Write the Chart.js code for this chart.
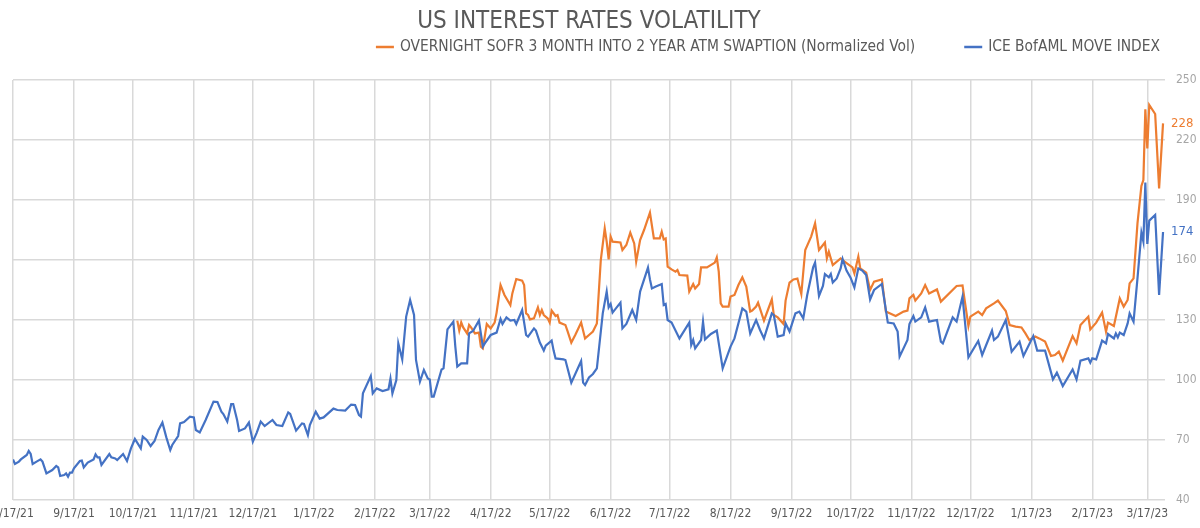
<!DOCTYPE html>
<html><head><meta charset="utf-8">
<script src="https://cdn.jsdelivr.net/npm/chart.js@4.4.0/dist/chart.umd.min.js"></script>
<style>html,body{margin:0;padding:0;background:#fff;}</style>
</head><body>
<canvas id="c" width="1200" height="528" style="display:block;width:1200px;height:528px"></canvas>
<script>
// ---- data (x = days since 8/17/21) ----
const titleText = 'US INTEREST RATES VOLATILITY';
const orangeLabel = 'OVERNIGHT SOFR 3 MONTH INTO 2 YEAR ATM SWAPTION (Normalized Vol)';
const blueLabel = 'ICE BofAML MOVE INDEX';
const tickDays = [0,31,61,92,122,153,184,212,243,273,304,334,365,396,426,457,487,518,549,577];
const tickLabels = ['8/17/21','9/17/21','10/17/21','11/17/21','12/17/21','1/17/22','2/17/22','3/17/22','4/17/22','5/17/22','6/17/22','7/17/22','8/17/22','9/17/22','10/17/22','11/17/22','12/17/22','1/17/23','2/17/23','3/17/23'];
const yTicks = [40,70,100,130,160,190,220,250];

const blueDays = [0,1,3,4,7,8,9,10,12,14,15,17,20,22,23,24,26,27,28,29,30,31,34,35,36,38,41,42,43,44,45,49,50,52,53,56,58,60,62,65,66,68,70,72,74,76,78,80,81,84,85,87,90,92,93,95,98,102,104,106,107,109,111,112,114,115,118,120,122,124,126,128,132,134,137,140,141,144,147,148,150,151,154,156,158,163,165,169,172,174,176,177,178,182,183,185,188,191,192,193,195,196,198,200,202,204,205,207,209,211,212,213,214,218,219,221,224,225,226,228,231,232,234,237,239,240,243,246,248,249,251,253,255,256,259,261,262,265,266,268,270,271,274,275,276,280,281,284,289,290,291,293,295,297,300,302,303,304,305,309,310,312,315,317,319,323,324,325,327,330,331,332,333,335,339,344,345,346,347,350,351,352,355,358,361,365,367,371,373,375,378,380,382,386,387,389,392,393,395,397,398,400,402,404,407,408,410,412,413,415,416,417,419,421,422,424,426,428,430,432,434,436,438,442,445,448,450,451,455,456,458,459,462,464,466,470,472,473,478,480,483,486,491,493,498,499,501,505,508,512,514,519,521,525,529,531,534,539,541,543,547,548,549,551,554,556,557,560,561,562,563,565,567,568,570,572,574,575,576,577,578,581,583,585];
const blueVals = [60.3,58,59.2,60.3,62.5,64.5,63,58,59.2,60.3,59.2,53.3,55,57,56.3,52,52.5,53.3,51.7,53.7,53.7,55.8,59.5,59.7,56.3,58.7,60.3,62.8,61.3,61.3,57.5,63,61.3,60.8,60,63,59.5,65.8,70.5,65.8,71.7,70,67,69.5,75,78.7,71.3,65,67.5,72,78.3,79,81.7,81.3,75,73.8,80,89.2,89,84.2,83,79.2,88,88,80,74.5,75.8,78.7,69.2,73.7,79.2,77,80,77.5,77,83.8,83,74.7,78.3,78,72.5,77.5,84.2,80.7,81.3,85.7,85,84.7,87.7,87.5,82.5,81.7,93.3,102,93.3,95.8,94.5,95.3,100.7,93.3,100,118.3,110.3,131.7,140,132.5,110,99.2,105,100.8,100.3,91.7,91.7,105.3,105.8,125.3,129.2,116.7,106.7,108.3,108.3,123.3,124.5,129.7,116.7,118.3,122.5,123.7,130.5,128,131.3,129.7,130,128,135,122.5,121.7,125.8,124.7,118.7,114.7,117.2,119.7,114.7,110.8,110.3,110,98.7,109.5,98.7,97.5,101.3,103,105.8,133.3,144.2,136.3,138,133.7,138.7,125.8,128,135,130,144.2,156.2,150.3,145.8,146.7,148,137.5,138,130,128.7,120.8,128.7,117.5,120,115.8,120,129.2,120.3,123,124.7,105.8,116.7,120.8,135.8,134.2,123.3,130,125,120.8,133.3,132.5,121.7,122.5,128.3,124.2,130.3,133.3,134.2,130.8,142.5,156.3,158.7,142,147,153,151.3,153,148.7,150.8,155.8,160.5,154.7,151.3,146.3,155.8,154.7,152.5,140.3,145,148,128.7,128.3,124.2,111.7,120,128,132,129.2,131.3,136.3,129.2,130,119.2,118.3,131.3,129.2,141.7,111.3,119.5,112.5,124.7,120,121.7,130,114.2,119.2,112,122,114.7,114.7,100.3,103.7,97,105.3,100.3,109.7,110.8,108.7,110.8,110.3,119.7,118.3,123,120.8,123.3,121.3,123.7,122.5,128.3,133.3,129.2,150.8,173.7,169.2,198.7,168,179.7,182.5,142.5,174];

const orangeDays = [226,227,228,229,231,232,233,235,237,238,239,241,243,245,246,248,250,253,254,256,259,260,261,262,263,265,267,268,269,270,272,273,274,276,277,278,281,282,284,286,289,291,293,295,297,299,301,302,303,304,305,309,310,312,314,316,317,319,321,324,326,329,330,331,332,333,335,337,338,339,343,344,346,347,349,350,353,357,358,359,360,361,364,365,367,369,371,373,375,376,378,379,382,384,386,387,389,392,393,395,397,399,401,403,406,408,410,413,414,415,417,421,423,427,428,430,431,434,436,438,442,444,449,453,455,456,458,459,462,464,466,470,472,480,483,486,487,491,493,495,499,501,505,507,510,513,515,517,520,522,525,528,530,532,534,539,541,543,547,548,551,554,556,557,560,563,565,567,568,570,572,574,575,576,577,578,581,583,585];
const orangeVals = [129.7,124.7,128.8,126.3,123.3,127.5,126.3,123.3,123.7,116.7,115.8,128,125.8,128.7,133.7,147.5,142.5,137.5,143.3,150.5,149.7,147.5,133.3,132.5,130.3,130.8,136.3,132.5,135,132.5,130.8,128.7,134.7,132,132.5,128.7,127.5,124.7,118.7,122.5,128.7,120.8,122.5,124.2,128.3,160,175.8,169.2,160.3,171.7,169.2,168.8,165,167.5,173.7,168.3,159.2,170,175,183.7,170.8,170.8,174.2,170.3,170.8,156.7,155.3,154.2,155,152.5,152.2,144.2,148,145.8,148,156.3,156.3,158.7,161.3,154.2,138.3,136.7,136.7,141.7,142.5,147.5,151.3,146.7,134.2,134.7,136.7,138.7,129.7,135,140.3,132.5,131.3,128,139.7,148.7,150.3,150.7,143,165,171.7,178.3,165,168.7,160.8,164.2,157.5,160.8,159.2,156.3,153.3,161.7,155.8,153.7,145,149.2,150.3,134.2,132,134.2,134.7,140.8,142.5,139.7,143.3,147.5,143.3,145.3,139.2,147,147.3,127,131.7,134.2,132.5,135.8,138.3,139.7,134.5,127.5,126.7,126.3,123.3,120,121.7,120.8,119.2,112,112.5,114.2,109.7,122,118.3,127.5,131.7,125.3,128.7,133.7,124.2,128.7,127,140.8,136.7,140,148.3,150.8,178.3,197,200,235.3,215.8,237.5,233,195.8,228.3];

const ORANGE = '#ED7D31';
const BLUE = '#4472C4';
const FONT = "'Liberation Sans Narrow', 'DejaVu Sans Condensed', 'Roboto', sans-serif";

const toPts = (xs, ys) => xs.map((x, i) => ({x: x, y: ys[i]}));

const overlay = {
  id: 'overlay',
  afterDraw(chart) {
    const {ctx, chartArea} = chart;
    const ys = chart.scales.y;
    ctx.save();
    // title
    ctx.fillStyle = '#595959';
    ctx.font = '24px ' + FONT;
    ctx.textAlign = 'center';
    ctx.textBaseline = 'middle';
    ctx.fillText(titleText, (chartArea.left + chartArea.right) / 2, 22);
    // legend
    ctx.font = '15.4px ' + FONT;
    ctx.textAlign = 'left';
    const box = 18, gap = 6, spacing = 49;
    const items = chart.data.datasets.map(d => ({text: d.label, color: d.borderColor}));
    let total = 0;
    items.forEach((it, i) => { total += box + gap + ctx.measureText(it.text).width + (i ? spacing : 0); });
    let x = 1160 - total;
    const ly = 47;
    items.forEach((it) => {
      ctx.strokeStyle = it.color;
      ctx.lineWidth = 2.5;
      ctx.beginPath(); ctx.moveTo(x, ly); ctx.lineTo(x + box, ly); ctx.stroke();
      ctx.fillStyle = '#595959';
      ctx.fillText(it.text, x + box + gap, ly);
      x += box + gap + ctx.measureText(it.text).width + spacing;
    });
    // end value labels
    ctx.font = '13px ' + FONT;
    chart.data.datasets.forEach(d => {
      const last = d.data[d.data.length - 1];
      ctx.fillStyle = d.borderColor;
      ctx.fillText(String(Math.round(last.y)), chartArea.right + 6, ys.getPixelForValue(last.y));
    });
    ctx.restore();
  }
};

new Chart(document.getElementById('c'), {
  type: 'line',
  data: {
    datasets: [
      {label: orangeLabel, data: toPts(orangeDays, orangeVals), borderColor: ORANGE, backgroundColor: ORANGE, borderWidth: 2.2, pointRadius: 0, tension: 0, order: 1},
      {label: blueLabel, data: toPts(blueDays, blueVals), borderColor: BLUE, backgroundColor: BLUE, borderWidth: 2.2, pointRadius: 0, tension: 0, order: 0}
    ]
  },
  options: {
    responsive: false,
    animation: false,
    devicePixelRatio: 1,
    layout: {padding: {left: 13, top: 80, right: 0, bottom: 0}},
    plugins: {legend: {display: false}, title: {display: false}, tooltip: {enabled: false}},
    scales: {
      x: {
        type: 'linear', min: 0, max: 586,
        afterBuildTicks: (s) => { s.ticks = tickDays.map(v => ({value: v})); },
        afterFit: (s) => { s.paddingLeft = 0; s.paddingRight = 0; s.height = 28; },
        ticks: {
          autoSkip: false, maxRotation: 0, padding: 7, color: '#595959',
          font: {family: FONT, size: 12},
          callback: (v, i) => tickLabels[i]
        },
        grid: {color: '#d9d9d9', lineWidth: 1.5, drawTicks: false},
        border: {display: false}
      },
      y: {
        position: 'right', min: 40, max: 250,
        afterBuildTicks: (s) => { s.ticks = yTicks.map(v => ({value: v})); },
        afterFit: (s) => { s.width = 35; },
        ticks: {padding: 11, color: '#a6a6a6', font: {family: FONT, size: 12}},
        grid: {color: '#d9d9d9', lineWidth: 1.5, drawTicks: false},
        border: {display: false}
      }
    }
  },
  plugins: [overlay]
});
</script>
</body></html>
